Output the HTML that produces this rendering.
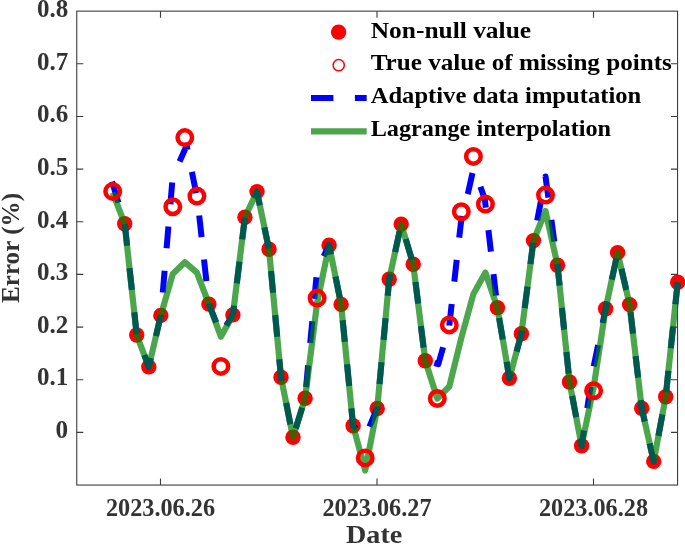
<!DOCTYPE html>
<html><head><meta charset="utf-8"><title>Error chart</title>
<style>html,body{margin:0;padding:0;background:#fff}svg{display:block}</style></head>
<body>
<svg width="685" height="544" viewBox="0 0 685 544">
<rect width="685" height="544" fill="#fff"/>
<g stroke="#3c3c3c" stroke-width="1.1" fill="none">
<rect x="76.75" y="11.15" width="600.8" height="473.9"/>
<path d="M76.75,63.8h6.5M677.5,63.8h-6.5"/>
<path d="M76.75,116.5h6.5M677.5,116.5h-6.5"/>
<path d="M76.75,169.1h6.5M677.5,169.1h-6.5"/>
<path d="M76.75,221.8h6.5M677.5,221.8h-6.5"/>
<path d="M76.75,274.4h6.5M677.5,274.4h-6.5"/>
<path d="M76.75,327.1h6.5M677.5,327.1h-6.5"/>
<path d="M76.75,379.7h6.5M677.5,379.7h-6.5"/>
<path d="M76.75,432.4h6.5M677.5,432.4h-6.5"/>
<path d="M160.5,485.0v-6.5M160.5,11.15v6.5"/>
<path d="M377.0,485.0v-6.5M377.0,11.15v6.5"/>
<path d="M593.5,485.0v-6.5M593.5,11.15v6.5"/>
</g>
<g font-family="'Liberation Serif', serif" font-weight="bold" font-size="25.7" fill="#333">
<text x="36.9" y="16.9" textLength="31.3" lengthAdjust="spacingAndGlyphs">0.8</text>
<text x="36.9" y="69.5" textLength="31.3" lengthAdjust="spacingAndGlyphs">0.7</text>
<text x="36.9" y="122.2" textLength="31.3" lengthAdjust="spacingAndGlyphs">0.6</text>
<text x="36.9" y="174.8" textLength="31.3" lengthAdjust="spacingAndGlyphs">0.5</text>
<text x="36.9" y="227.5" textLength="31.3" lengthAdjust="spacingAndGlyphs">0.4</text>
<text x="36.9" y="280.1" textLength="31.3" lengthAdjust="spacingAndGlyphs">0.3</text>
<text x="36.9" y="332.8" textLength="31.3" lengthAdjust="spacingAndGlyphs">0.2</text>
<text x="36.9" y="385.4" textLength="31.3" lengthAdjust="spacingAndGlyphs">0.1</text>
<text x="55.6" y="438.1" textLength="12.6" lengthAdjust="spacingAndGlyphs">0</text>
<text x="105.9" y="516.4" textLength="109.2" lengthAdjust="spacingAndGlyphs">2023.06.26</text>
<text x="322.4" y="516.4" textLength="109.2" lengthAdjust="spacingAndGlyphs">2023.06.27</text>
<text x="538.9" y="516.4" textLength="109.2" lengthAdjust="spacingAndGlyphs">2023.06.28</text>
</g>
<g font-family="'Liberation Serif', serif" font-weight="bold" font-size="25" fill="#333">
<text x="346" y="542.5" textLength="56.3" lengthAdjust="spacingAndGlyphs">Date</text>
<text transform="translate(18.6,303) rotate(-90)" textLength="110" lengthAdjust="spacingAndGlyphs">Error (%)</text>
</g>
<g fill="#f00">
<circle cx="124.7" cy="223.8" r="7.7"/>
<circle cx="136.7" cy="335" r="7.7"/>
<circle cx="148.8" cy="366.9" r="7.7"/>
<circle cx="160.8" cy="315.4" r="7.7"/>
<circle cx="208.9" cy="304.1" r="7.7"/>
<circle cx="232.9" cy="314.9" r="7.7"/>
<circle cx="244.9" cy="217.2" r="7.7"/>
<circle cx="257.0" cy="191.6" r="7.7"/>
<circle cx="269.0" cy="249.3" r="7.7"/>
<circle cx="281.0" cy="377.2" r="7.7"/>
<circle cx="293.0" cy="437.3" r="7.7"/>
<circle cx="305.1" cy="398.2" r="7.7"/>
<circle cx="329.1" cy="245.2" r="7.7"/>
<circle cx="341.1" cy="304.4" r="7.7"/>
<circle cx="353.1" cy="425.8" r="7.7"/>
<circle cx="377.2" cy="408.5" r="7.7"/>
<circle cx="389.2" cy="279.3" r="7.7"/>
<circle cx="401.2" cy="224.1" r="7.7"/>
<circle cx="413.2" cy="264.3" r="7.7"/>
<circle cx="425.3" cy="360.7" r="7.7"/>
<circle cx="497.4" cy="307.8" r="7.7"/>
<circle cx="509.4" cy="378.2" r="7.7"/>
<circle cx="521.4" cy="333.7" r="7.7"/>
<circle cx="533.5" cy="240.6" r="7.7"/>
<circle cx="557.5" cy="265.2" r="7.7"/>
<circle cx="569.5" cy="382" r="7.7"/>
<circle cx="581.6" cy="445.7" r="7.7"/>
<circle cx="605.6" cy="308.8" r="7.7"/>
<circle cx="617.6" cy="252.6" r="7.7"/>
<circle cx="629.6" cy="304.6" r="7.7"/>
<circle cx="641.7" cy="408.2" r="7.7"/>
<circle cx="653.7" cy="461.4" r="7.7"/>
<circle cx="665.7" cy="396.7" r="7.7"/>
<circle cx="677.7" cy="282.3" r="7.7"/>
</g>
<path d="M112.1,181.7 L118.4,202.6 M124.8,224.1 L127.1,245.8 M129.5,268.2 L131.9,289.9 M134.3,312.2 L136.6,333.9 M144.3,355.0 L148.8,366.9 L150.8,358.0 M156.0,336.1 L160.8,315.4 L160.8,314.9 M162.8,292.5 L164.6,270.7 M166.6,248.3 L168.4,226.6 M170.4,204.2 L172.2,182.5 M179.6,161.5 L186.7,145.5 L187.5,149.8 M191.9,171.8 L196.2,193.2 M199.2,215.5 L201.6,237.2 M204.0,259.5 L206.4,281.2 M208.8,303.6 L208.9,304.1 L216.2,322.4 M226.2,325.5 L232.9,314.9 L234.1,305.7 M236.8,283.4 L239.5,261.7 M242.2,239.4 L244.9,217.8 M254.3,197.4 L257.0,191.6 L259.8,205.3 M264.4,227.3 L268.8,248.6 M271.0,271.0 L273.1,292.7 M275.2,315.1 L277.2,336.8 M279.3,359.2 L281.0,377.2 L281.7,380.9 M286.2,402.9 L290.4,424.3 M295.7,428.5 L302.2,407.6 M306.1,387.1 L308.1,365.4 M310.2,343.0 L312.3,321.3 M314.4,298.9 L316.4,277.2 M323.7,256.2 L329.1,245.2 L331.0,254.5 M335.5,276.6 L339.8,297.9 M342.7,320.2 L344.8,341.9 M347.1,364.3 L349.2,386.0 M351.4,408.4 L353.1,425.8 L356.4,428.7 M369.4,426.6 L377.2,408.5 L377.4,406.5 M379.5,384.0 L381.5,362.3 M383.6,339.9 L385.6,318.2 M387.7,295.8 L389.2,279.3 L390.3,274.2 M395.1,252.2 L399.7,230.9 M405.7,239.0 L411.9,259.8 M415.5,282.0 L418.2,303.6 M420.9,326.0 L423.6,347.6 M434.3,363.1 L438.3,364.2 L443.1,347.3 M449.3,325.6 L449.3,325.5 L451.7,304.0 M454.3,281.6 L456.7,259.9 M459.2,237.6 L461.7,215.9 M467.6,194.2 L468.1,192.6 L472.5,173.0 M480.4,186.7 L481.0,188.4 L484.8,199.0 L485.8,207.7 M488.4,230.1 L490.9,251.7 M493.5,274.1 L496.0,295.7 M499.1,318.0 L502.8,339.5 M506.6,361.7 L509.4,378.2 L510.7,373.3 M516.6,351.6 L521.4,333.7 L521.9,330.5 M524.7,308.2 L527.5,286.6 M530.4,264.2 L533.2,242.6 M537.2,220.5 L541.3,199.1 M545.4,176.9 L545.5,176.5 L548.4,197.7 M551.4,219.9 L554.3,241.6 M557.3,263.8 L557.5,265.2 L559.6,285.5 M561.9,307.9 L564.1,329.6 M566.4,352.0 L568.7,373.7 M572.2,395.9 L576.2,417.3 M580.4,439.4 L581.6,445.7 L583.9,430.5 M587.3,408.2 L590.6,386.7 M593.7,366.4 L598.1,345.1 M602.7,323.0 L605.6,308.8 L607.1,301.7 M611.8,279.7 L616.4,258.4 M621.4,268.8 L626.3,290.0 M630.5,312.1 L633.0,333.7 M635.6,356.1 L638.1,377.7 M640.7,400.1 L641.7,408.2 L644.7,421.5 M649.6,443.4 L653.7,461.4 L654.3,458.1 M658.4,435.9 L662.4,414.5 M666.2,392.3 L668.4,370.7 M670.8,348.3 L673.1,326.6 M675.4,304.2 L677.7,282.5" fill="none" stroke="#00f" stroke-width="6" stroke-linejoin="round"/>
<path d="M112.7,192.6 L124.7,223.8 L136.7,335.0 L148.8,366.9 L160.8,315.4 L172.8,273.9 L184.8,262.2 L196.9,272.7 L208.9,304.1 L220.9,336.7 L232.9,314.9 L244.9,217.2 L257.0,191.6 L269.0,249.3 L281.0,377.2 L293.0,437.3 L305.1,398.2 L317.1,303.0 L329.1,245.2 L341.1,304.4 L353.1,425.8 L365.2,470.5 L377.2,408.5 L389.2,279.3 L401.2,224.1 L413.2,264.3 L425.3,360.7 L437.3,398.5 L449.3,386.5 L461.3,338.0 L473.4,294.0 L485.4,272.6 L497.4,307.8 L509.4,378.2 L521.4,333.7 L533.5,240.6 L545.5,211.0 L557.5,265.2 L569.5,382.0 L581.6,445.7 L593.6,387.6 L605.6,308.8 L617.6,252.6 L629.6,304.6 L641.7,408.2 L653.7,461.4 L665.7,396.7 L677.7,282.3" fill="none" stroke="rgb(0,128,0)" stroke-opacity="0.7" stroke-width="6.2" stroke-linejoin="round" stroke-linecap="butt"/>
<g fill="none" stroke="#f00" stroke-width="4.5">
<circle cx="112.7" cy="191.4" r="7.25"/>
<circle cx="172.8" cy="206.7" r="7.25"/>
<circle cx="184.8" cy="137.6" r="7.25"/>
<circle cx="196.9" cy="196.1" r="7.25"/>
<circle cx="220.9" cy="366.4" r="7.25"/>
<circle cx="317.1" cy="298.1" r="7.25"/>
<circle cx="365.2" cy="457.9" r="7.25"/>
<circle cx="437.3" cy="398.5" r="7.25"/>
<circle cx="449.3" cy="324.9" r="7.25"/>
<circle cx="461.3" cy="211.7" r="7.25"/>
<circle cx="473.4" cy="156.4" r="7.25"/>
<circle cx="485.4" cy="204.1" r="7.25"/>
<circle cx="545.5" cy="195.1" r="7.25"/>
<circle cx="593.6" cy="390.8" r="7.25"/>
</g>
<circle cx="338.6" cy="32.1" r="7.7" fill="#f00"/>
<circle cx="338.7" cy="65.2" r="5.6" fill="none" stroke="#f00" stroke-width="1.5"/>
<path d="M311,98H366.7" stroke="#00f" stroke-width="6" stroke-dasharray="22.4 21.5" fill="none"/>
<path d="M311,131.4H366.7" stroke="rgb(0,128,0)" stroke-opacity="0.7" stroke-width="6.2" fill="none"/>
<g font-family="'Liberation Serif', serif" font-weight="bold" font-size="23.8" fill="#000">
<text x="370.7" y="37.5" textLength="160.4" lengthAdjust="spacingAndGlyphs">Non-null value</text>
<text x="370.7" y="70.4" textLength="301.2" lengthAdjust="spacingAndGlyphs">True value of missing points</text>
<text x="370.7" y="103.4" textLength="270.5" lengthAdjust="spacingAndGlyphs">Adaptive data imputation</text>
<text x="370.7" y="136.4" textLength="240.4" lengthAdjust="spacingAndGlyphs">Lagrange interpolation</text>
</g>
</svg>
</body></html>
